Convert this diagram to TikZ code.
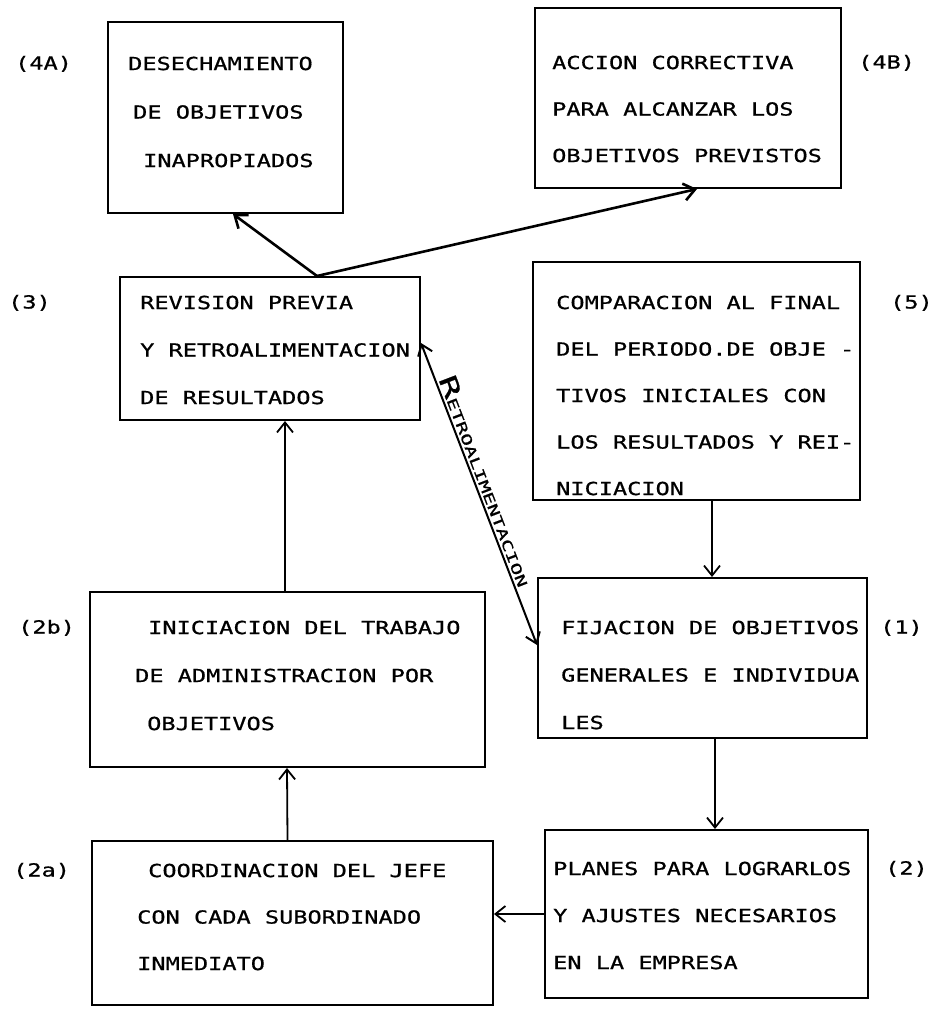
\documentclass[tikz,border=0pt]{standalone}
\usepackage{fontspec}
\newfontfamily\dm[FakeStretch=1.31,FakeBold=0.8]{DejaVu Sans Mono}
\newfontfamily\rf[FakeStretch=1.55,FakeBold=1]{DejaVu Sans Mono}
\usetikzlibrary{arrows.meta}
\begin{document}
\begin{tikzpicture}[x=1pt,y=-1pt,
  box/.style={draw, line width=2pt, rectangle, inner sep=0pt},
  txt/.style={anchor=north west, inner sep=0pt, align=left, font=\dm\fontsize{18}{47}\selectfont},
  lbl/.style={anchor=base west, inner sep=0pt, font=\dm\fontsize{18}{22}\selectfont},
  arr/.style={line width=1.8pt, -{Straight Barb[length=10pt,width=16pt,line width=1.8pt]}},
  tarr/.style={line width=2.6pt, -{Straight Barb[length=11pt,width=17pt,line width=2.6pt]}},
  darr/.style={line width=2pt, {Straight Barb[length=10pt,width=15pt,line width=2pt]}-{Straight Barb[length=10pt,width=15pt,line width=2pt]}}
]
\useasboundingbox (0,0) rectangle (933,1015);

% boxes
\node[box, minimum width=235pt, minimum height=191pt] (b4a) at (225.5,117.5) {};
\node[box, minimum width=306pt, minimum height=180pt] (b4b) at (688,98) {};
\node[box, minimum width=300pt, minimum height=143pt] (b3) at (270,348.5) {};
\node[box, minimum width=327pt, minimum height=238pt] (b5) at (696.5,381) {};
\node[box, minimum width=329pt, minimum height=160pt] (b1) at (702.5,658) {};
\node[box, minimum width=395pt, minimum height=175pt] (b2b) at (287.5,679.5) {};
\node[box, minimum width=323pt, minimum height=168pt] (b2) at (706.5,914) {};
\node[box, minimum width=401pt, minimum height=164pt] (b2a) at (292.5,923) {};

% texts
\node[txt, font=\dm\fontsize{18}{48.5}\selectfont] (t4a) at (128,56.5) {DESECHAMIENTO\\\hspace*{5pt}DE OBJETIVOS\\\hspace*{15pt}INAPROPIADOS};
\node[txt, font=\dm\fontsize{18}{46.5}\selectfont] (t4b) at (552,55.5) {ACCION CORRECTIVA\\PARA ALCANZAR LOS\\OBJETIVOS PREVISTOS};
\node[txt, font=\dm\fontsize{18}{47.5}\selectfont] (t3) at (140,295.5) {REVISION PREVIA\\Y RETROALIMENTACION\\DE RESULTADOS};
\node[txt, font=\dm\fontsize{18}{46.5}\selectfont] (t5) at (556,295.5) {COMPARACION AL FINAL\\DEL PERIODO.DE OBJE -\\TIVOS INICIALES CON\\LOS RESULTADOS Y REI-\\NICIACION};
\node[txt, font=\dm\fontsize{18}{47.5}\selectfont] (t1) at (561,620.5) {FIJACION DE OBJETIVOS\\GENERALES E INDIVIDUA\\LES};
\node[txt, font=\dm\fontsize{18}{48}\selectfont] (t2b) at (135,620.5) {\hspace*{13pt}INICIACION DEL TRABAJO\\DE ADMINISTRACION POR\\\hspace*{12pt}OBJETIVOS};
\node[txt] (t2) at (553,861.5) {PLANES PARA LOGRARLOS\\Y AJUSTES NECESARIOS\\EN LA EMPRESA};
\node[txt, font=\dm\fontsize{18}{46.5}\selectfont] (t2a) at (137,863.5) {\hspace*{11pt}COORDINACION DEL JEFE\\CON CADA SUBORDINADO\\INMEDIATO};

% side labels
\node[lbl] (l4a) at (15,69.5) {(4A)};
\node[lbl] (l4b) at (858,68.5) {(4B)};
\node[lbl] (l3) at (8,308.5) {(3)};
\node[lbl] (l5) at (890,308.5) {(5)};
\node[lbl] (l1) at (880,633.5) {(1)};
\node[lbl] (l2b) at (18,633.5) {(2b)};
\node[lbl] (l2) at (885,874.5) {(2)};
\node[lbl] (l2a) at (13,876.5) {(2a)};

% connectors
\draw[tarr] ([xshift=47pt]b3.north) -- ([xshift=7.5pt]b4a.south);
\draw[tarr] ([xshift=47pt]b3.north) -- ([xshift=9pt]b4b.south);
\draw[arr] ([xshift=15.5pt]b5.south) -- ([xshift=9.5pt]b1.north);
\draw[arr] ([xshift=12.5pt]b1.south) -- ([xshift=8.5pt]b2.north);
\draw[arr] (b2.west) -- (b2.west -| b2a.east);
\draw[arr] ([xshift=-5pt]b2a.north) -- ([xshift=-0.5pt]b2b.south);
\draw[arr] ([xshift=-2.5pt]b2b.north) -- ([xshift=15pt]b3.south);
\draw[darr] ([yshift=5.5pt]b3.east) -- node[sloped, above, pos=0.47, inner sep=2pt] (rl) {\rf\fontsize{24}{24}\selectfont R\fontsize{13.5}{13.5}\selectfont ETROALIMENTACION} ([yshift=13pt]b1.west);
\end{tikzpicture}
\end{document}
